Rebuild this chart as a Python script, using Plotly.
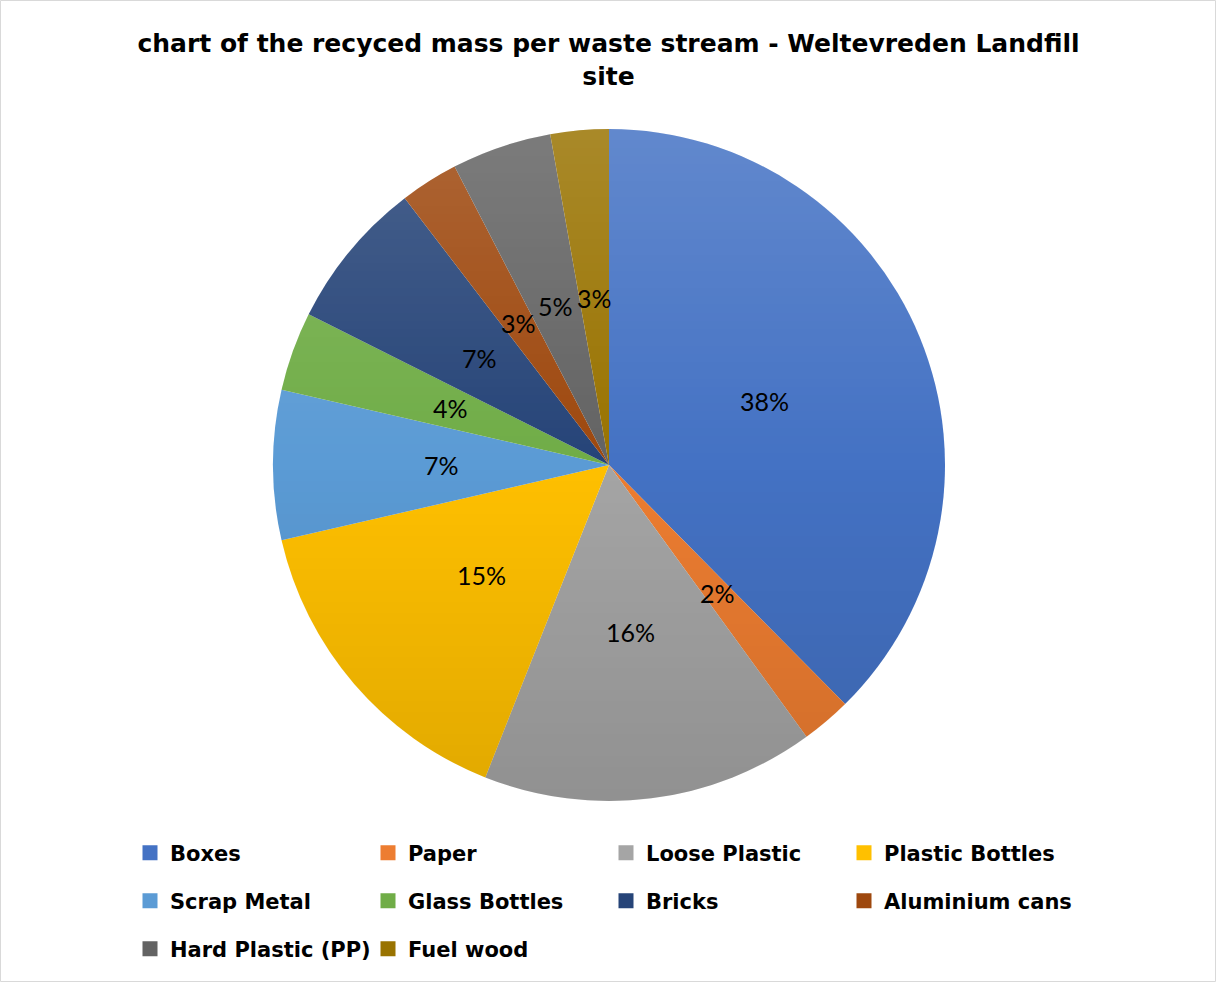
import math
import zlib
import struct
import base64
import plotly.graph_objects as go

# Recycled mass share per waste stream (percent of total)
streams = ["Boxes", "Paper", "Loose Plastic", "Plastic Bottles", "Scrap Metal",
           "Glass Bottles", "Bricks", "Aluminium cans", "Hard Plastic (PP)", "Fuel wood"]
shares = [37.6, 2.4, 16.0, 15.4, 7.2, 3.8, 7.2, 2.8, 4.8, 2.8]
colors = ["#4472C4", "#ED7D31", "#A5A5A5", "#FFC000", "#5B9BD5",
          "#70AD47", "#264478", "#9E480E", "#636363", "#997300"]
legend_rows = [streams[0:4], streams[4:8], streams[8:10]]

W, H = 1217, 983
CX, CY, R = 609, 465, 336          # pie centre and radius in pixels
LEGEND_Y = [853, 901, 949]
LEGEND_X = 149                     # centre of the first legend swatch
COL_W = 238


def shading_png(radius):
    """Disc-shaped overlay: light at the top, dark at the bottom."""
    size = 2 * radius
    rows = []
    for j in range(size):
        t = (j + 0.5) / size            # 0 at top, 1 at bottom
        if t < 0.5:
            rgb = (255, 255, 255)
            a_base = 0.16 * (0.5 - t) / 0.5
        else:
            rgb = (0, 0, 0)
            a_base = 0.12 * (t - 0.5) / 0.5
        dy = j + 0.5 - radius
        row = bytearray([0])
        for i in range(size):
            dx = i + 0.5 - radius
            d = math.sqrt(dx * dx + dy * dy)
            cov = min(1.0, max(0.0, radius - d + 0.5)) if d > radius - 1 else 1.0
            a = int(round(255 * a_base * cov))
            row += bytes((rgb[0], rgb[1], rgb[2], a))
        rows.append(bytes(row))
    raw = b"".join(rows)

    def chunk(tag, data):
        c = struct.pack(">I", len(data)) + tag + data
        return c + struct.pack(">I", zlib.crc32(tag + data) & 0xFFFFFFFF)

    png = b"\x89PNG\r\n\x1a\n"
    png += chunk(b"IHDR", struct.pack(">IIBBBBB", size, size, 8, 6, 0, 0, 0))
    png += chunk(b"IDAT", zlib.compress(raw, 9))
    png += chunk(b"IEND", b"")
    return "data:image/png;base64," + base64.b64encode(png).decode()


fig = go.Figure()

fig.add_trace(go.Pie(
    labels=streams,
    values=shares,
    sort=False,
    direction="clockwise",
    rotation=0,
    marker=dict(colors=colors, line=dict(width=0)),
    textinfo="none",
    hoverinfo="label+percent",
    showlegend=False,
    domain=dict(x=[(CX - R) / W, (CX + R) / W], y=[1 - (CY + R) / H, 1 - (CY - R) / H]),
))

# percentage labels at half radius along each slice bisector
total = sum(shares)
cum = 0.0
annotations = []
for name, v in zip(streams, shares):
    a = 2 * math.pi * (cum + v / 2) / total
    cum += v
    px = CX + 0.5 * R * math.sin(a)
    py = CY - 0.5 * R * math.cos(a)
    annotations.append(dict(
        x=px / W, y=1 - py / H, xref="paper", yref="paper",
        text=f"{round(100 * v / total)}%", showarrow=False,
        font=dict(family="Lato", size=25, color="#000000"),
        xanchor="center", yanchor="middle",
    ))

# legend entries, one legend per row
color_of = dict(zip(streams, colors))
legend_ids = ["legend", "legend2", "legend3"]
for lid, row in zip(legend_ids, legend_rows):
    for name in row:
        fig.add_trace(go.Scatter(
            x=[None], y=[None], mode="markers", name=name,
            marker=dict(symbol="square", size=15, color=color_of[name]),
            legend=lid, showlegend=True, hoverinfo="skip",
        ))

legend_font = dict(family="DejaVu Sans", size=21, color="#000000", weight="bold")
legend_common = dict(
    orientation="h", entrywidth=COL_W - 45, entrywidthmode="pixels",
    font=legend_font, bgcolor="rgba(0,0,0,0)", xanchor="left", yanchor="middle",
    itemclick=False, itemdoubleclick=False,
)
layout_legends = {}
for lid, ly in zip(legend_ids, LEGEND_Y):
    layout_legends[lid] = dict(legend_common, x=(LEGEND_X - 19) / W, y=1 - ly / H)

fig.update_layout(
    width=W, height=H,
    margin=dict(l=0, r=0, t=0, b=0),
    paper_bgcolor="#FFFFFF", plot_bgcolor="#FFFFFF",
    title=dict(
        text="chart of the recyced mass per waste stream - Weltevreden Landfill<br>site",
        x=0.5, xanchor="center", y=1 - 52 / H, yanchor="middle",
        font=dict(family="DejaVu Sans", size=25, color="#000000", weight="bold"),
    ),
    xaxis=dict(visible=False), yaxis=dict(visible=False),
    annotations=annotations,
    images=[dict(source=shading_png(R), xref="paper", yref="paper",
                 x=(CX - R) / W, y=1 - (CY - R) / H, sizex=2 * R / W, sizey=2 * R / H,
                 xanchor="left", yanchor="top", sizing="stretch", layer="above")],
    shapes=[dict(type="rect", xref="paper", yref="paper",
                 x0=0.5 / W, x1=(W - 1.5) / W, y0=1.5 / H, y1=1 - 0.5 / H,
                 line=dict(color="#D9D9D9", width=1), fillcolor="rgba(0,0,0,0)")],
    **layout_legends,
)

fig.write_html("out.html")
